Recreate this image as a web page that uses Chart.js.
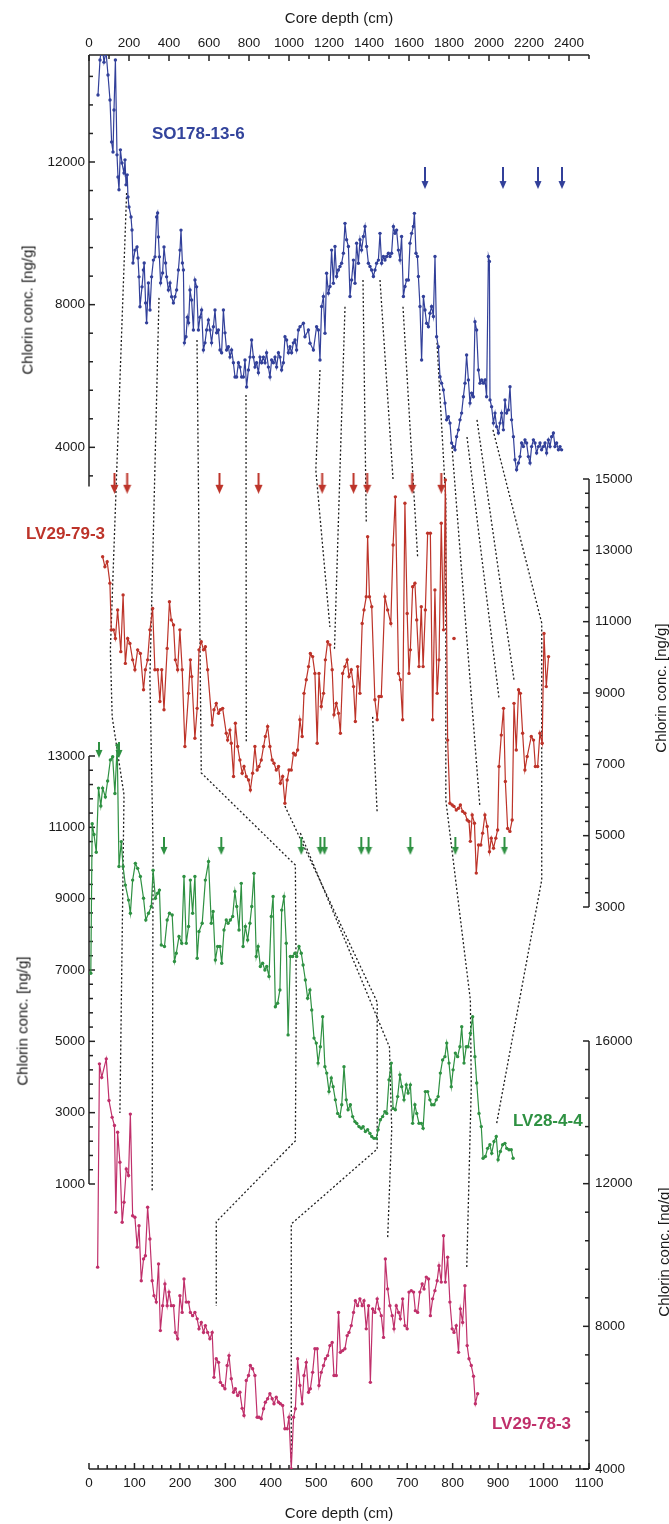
<!DOCTYPE html>
<html>
<head>
<meta charset="utf-8">
<script src="https://cdn.jsdelivr.net/npm/chart.js@4.4.1/dist/chart.umd.min.js"></script>
<style>
  html, body { margin: 0; padding: 0; background: #fff; }
  #wrap { position: relative; width: 669px; height: 1524px; font-family: 'Liberation Sans', Arial, sans-serif; }
  #chart { position: absolute; left: 0; top: 0; }
  .lbl { position: absolute; font-weight: bold; font-size: 17px; line-height: 1; white-space: nowrap; transform: translateY(-50%); }
  .ytitle { position: absolute; font-size: 15px; line-height: 1; color: #1a1a1a; white-space: nowrap; transform: translate(-50%, -50%) rotate(-90deg); }
</style>
</head>
<body>
<div id="wrap">
  <canvas id="chart" width="669" height="1524"></canvas>
  <div class="lbl" style="left:152px;top:133px;color:#33449c">SO178-13-6</div>
  <div class="lbl" style="left:26px;top:533px;color:#bd3329">LV29-79-3</div>
  <div class="lbl" style="left:513px;top:1120px;color:#2e9142">LV28-4-4</div>
  <div class="lbl" style="left:492px;top:1423px;color:#c0306b">LV29-78-3</div>
  <div class="ytitle" style="left:27px;top:310px">Chlorin conc. [ng/g]</div>
  <div class="ytitle" style="left:22px;top:1021px">Chlorin conc. [ng/g]</div>
  <div class="ytitle" style="left:660px;top:688px">Chlorin conc. [ng/g]</div>
  <div class="ytitle" style="left:663px;top:1252px">Chlorin conc. [ng/g]</div>
</div>
<script>
// ---- SO178-13-6 (top depth axis) ----
const soDepth = [
  45,55,65,75,85,95,105,113,120,125,
  132,140,145,150,157,165,175,180,185,191,
  195,200,210,215,220,230,240,245,250,255,
  265,272,276,283,288,297,305,313,322,330,
  338,343,347,352,358,368,375,383,388,397,
  405,413,422,430,438,447,455,460,467,472,
  477,485,492,498,505,513,522,530,538,547,
  555,563,572,580,588,597,605,613,622,630,
  638,647,655,663,672,680,688,697,705,713,
  722,730,738,747,755,763,772,780,788,797,
  805,813,822,830,838,847,855,863,872,880,
  888,897,905,913,922,930,938,947,955,963,
  972,980,988,997,1005,1013,1022,1030,1038,1047,
  1055,1072,1080,1097,1105,1122,1138,1147,1155,1163,
  1172,1180,1188,1197,1205,1213,1222,1230,1238,1247,
  1255,1263,1272,1280,1288,1297,1305,1313,1322,1330,
  1338,1347,1355,1363,1372,1380,1388,1397,1405,1413,
  1422,1430,1438,1447,1455,1463,1472,1480,1488,1497,
  1505,1513,1522,1530,1538,1547,1555,1563,1572,1580,
  1588,1597,1605,1613,1622,1627,1635,1642,1647,1655,
  1663,1672,1680,1688,1697,1705,1713,1722,1730,1738,
  1747,1755,1763,1772,1780,1788,1797,1805,1813,1822,
  1830,1838,1847,1855,1863,1872,1880,1888,1897,1905,
  1913,1922,1930,1938,1947,1955,1963,1972,1980,1988,
  1997,2002,2005,2013,2022,2030,2038,2047,2055,2063,
  2072,2080,2088,2097,2105,2113,2122,2130,2138,2147,
  2155,2163,2172,2180,2188,2197,2205,2213,2222,2230,
  2238,2247,2255,2263,2272,2280,2288,2297,2305,2313,
  2322,2330,2338,2347,2355,2363
];
const soConc = [
  13880,14860,15300,14800,15100,14440,13740,12560,12280,13460,
  14860,12200,11580,11220,12340,11970,11690,12060,11360,11640,
  11020,10740,10460,10095,9170,9530,9620,9310,8780,7940,
  8500,8970,9170,8050,7490,8610,7850,8780,9250,9340,
  10460,10570,9900,9340,8610,8890,9620,9170,8780,8410,
  8610,8220,8050,8220,8410,8970,9530,10090,9170,8970,
  6930,7100,7650,7490,8410,8130,7290,8690,8500,7290,
  7650,7850,6730,6930,7290,7570,7290,6930,7380,7850,
  7210,7290,6730,6650,7850,7210,6730,6820,6530,6730,
  6370,5970,5970,6370,6250,5970,5970,6450,5690,6170,
  6530,7010,6530,6250,6370,6090,6530,6370,6530,6370,
  6650,6250,5970,6450,6370,6530,6250,6650,6530,6170,
  6370,7100,7010,6650,6820,6650,6930,7010,6730,7290,
  7380,7480,7100,7290,6920,6730,7380,7290,6450,7950,
  8230,7200,8880,8320,8510,9530,8600,9630,8790,8970,
  9070,9160,9440,10280,9820,9630,8230,8690,9250,8600,
  9720,9160,9820,9530,9910,10190,9630,9160,9070,8970,
  8790,8970,9160,9250,10000,9160,9350,9250,9350,9440,
  9350,9440,10190,10000,10090,9530,9250,9910,8230,8510,
  8690,8690,9720,10000,10190,10560,9440,9350,8790,7950,
  6450,8230,7850,7480,7380,7760,7950,7670,9350,7100,
  6820,5980,5800,5610,5240,4770,4860,4680,4120,4020,
  3930,4300,4490,4770,4960,5420,5800,6590,5890,5240,
  5520,5420,7520,7290,6170,5800,5890,5800,5890,5420,
  9350,9210,5330,5140,4680,4960,4580,4400,4680,4960,
  4490,5330,4960,5050,5700,4770,4300,3650,3370,3560,
  3740,4120,4020,4210,4120,3740,3560,4020,4210,4120,
  3840,4020,4120,3930,4020,4120,3840,4210,4020,4300,
  4400,4020,4120,3930,4020,3930
];

// ---- LV29-79-3 ----
const r79Depth = [
  30,35,40,46,49,54,58,63,70,75,
  80,85,90,96,101,107,113,120,124,129,
  134,140,145,151,156,160,165,172,177,181,
  186,190,195,200,205,211,219,223,226,233,
  238,242,247,252,256,261,271,275,280,285,
  289,294,302,305,310,313,318,322,327,332,
  337,341,346,351,355,360,365,370,374,379,
  384,388,393,398,403,407,412,417,421,426,
  431,436,440,445,450,454,459,464,469,473,
  478,483,487,492,497,502,506,511,516,520,
  525,530,535,539,544,549,553,558,563,568,
  572,577,582,586,591,596,601,605,610,613,
  617,622,629,634,638,643,651,657,664,669,
  674,681,685,690,695,700,704,707,712,717,
  721,726,731,735,740,745,751,756,761,766,
  770,775,780,784,789,794,799,803,808,813,
  817,822,827,832,836,839,843,848,852,857,
  862,866,871,876,881,885,890,895,899,902,
  907,912,916,921,926,931,935,940,945,949,
  954,959,964,973,978,982,987,992,997,1001,
  1006,1011
];
const r79Conc = [
  12820,12540,12680,12080,10770,10770,10530,11330,10160,11750,
  9830,10530,10390,9930,9650,10210,10110,9090,9650,9930,
  10770,11370,9650,9650,8760,9650,8530,10250,11560,11050,
  10910,9930,9650,10770,9650,7500,8990,9930,9460,7730,
  8570,10210,10440,10210,10300,9650,8100,8530,8710,8430,
  8530,8570,7870,7680,7960,7590,6660,8150,7500,7120,
  6750,6940,6660,6560,6280,6750,7500,6840,6940,7120,
  7500,7780,8060,7500,7120,7030,6840,6940,6470,6660,
  5910,6560,6840,6840,7310,7260,7400,8250,7780,8990,
  9370,9740,10110,10020,9550,7590,9550,8620,8990,9930,
  10440,10350,9650,8390,8710,8430,7870,9550,9740,9930,
  9460,9650,9180,8200,9740,8990,10950,11330,11700,13380,
  11700,11420,8810,8250,8900,8900,11700,11330,10950,13150,
  14500,9550,9370,8250,14320,11230,9550,10210,11980,12080,
  11050,9740,11420,9740,11330,13480,13480,8250,11890,8990,
  9930,13760,10770,14970,7680,5910,5860,5820,5720,5770,
  5860,5680,5630,5440,5400,4840,5580,5350,3950,4740,
  4740,5070,5580,5260,4550,4930,4650,4930,5160,6940,
  7820,8570,6520,5200,5120,5440,8710,7400,9090,8990,
  7870,6840,7220,7780,7680,6940,6940,7870,7590,10670,
  9180,10020
];
const r79LoneDepth = [803];
const r79LoneConc = [10530];

// ---- LV28-4-4 ----
const g4Depth = [
  4,7,11,16,21,26,30,36,41,47,
  52,57,62,66,71,75,80,87,91,96,
  102,107,113,120,125,131,137,141,146,151,
  155,159,166,172,177,183,188,192,198,204,
  209,214,219,223,228,233,238,242,249,256,
  263,269,273,278,283,288,292,297,302,306,
  311,316,321,325,330,335,339,344,349,354,
  358,363,368,372,377,382,387,391,396,401,
  405,410,415,420,424,429,434,438,443,448,
  453,457,462,467,471,476,481,486,490,495,
  500,504,509,514,519,523,528,533,537,542,
  547,552,556,561,566,570,575,580,585,589,
  594,599,603,608,613,618,622,627,632,636,
  641,646,651,655,660,665,669,674,679,684,
  688,693,698,702,707,712,717,721,726,731,
  735,740,745,750,754,759,764,768,773,778,
  783,787,792,797,801,806,811,816,820,825,
  830,834,839,844,849,853,858,863,867,872,
  877,882,886,891,896,900,905,910,915,919,
  924,929,933
];
const g4Conc = [
  6910,11100,10800,10300,12100,11600,12100,11850,12300,12890,
  12980,11950,13300,9900,10600,9900,9380,8960,8590,9520,
  9990,9850,9620,9010,8400,8590,8780,9800,9010,9150,
  9240,7700,7660,8400,8590,8540,7240,7470,7940,7750,
  9620,7750,8220,9520,8590,9620,7330,8080,8310,9520,
  10040,8310,8640,7280,7660,7660,7190,8120,8400,8310,
  8400,8500,9200,8780,8120,9430,7660,8220,7840,8310,
  8780,9710,7380,7660,7100,7190,7000,7100,6820,8500,
  9060,5970,6070,6440,8680,9060,7750,5180,7380,7380,
  7470,7380,7660,7470,7140,6720,6210,6440,5880,5090,
  4950,4390,4850,5690,4290,4110,3590,3970,3730,3360,
  2980,2890,3220,4290,3360,3080,3220,2890,2750,2700,
  2610,2560,2610,2470,2520,2420,2330,2280,2280,2520,
  2800,2890,3030,2980,3920,4390,3120,3080,3450,4060,
  3730,3360,3780,3550,3780,2700,3220,2980,2700,2700,
  2560,3590,3590,3360,3220,3220,3360,3450,4110,4480,
  4570,4950,4390,3730,4200,4670,4570,4850,5410,4390,
  4850,4850,5230,5690,4570,3830,2980,2610,1720,1770,
  2000,2100,1860,2190,2330,1680,1910,2100,2140,2000,
  1960,1960,1720
];

// ---- LV29-78-3 ----
const m78Depth = [
  19,23,28,38,44,51,56,59,63,68,
  73,77,82,87,91,96,101,106,110,115,
  120,124,129,134,139,143,148,153,157,162,
  167,172,176,181,186,190,195,200,205,209,
  214,219,223,228,233,238,242,247,252,256,
  261,266,271,275,280,285,289,294,299,304,
  308,313,318,322,327,332,337,341,346,351,
  355,360,365,370,374,379,384,388,393,398,
  403,407,412,417,421,426,431,436,440,445,
  450,454,459,464,469,473,478,483,487,492,
  497,502,506,511,516,520,525,530,535,539,
  544,549,553,558,563,568,572,577,582,586,
  591,596,601,605,610,615,619,624,629,634,
  638,643,648,652,657,662,667,671,676,681,
  685,690,695,700,704,709,714,718,723,728,
  733,737,742,747,751,756,761,766,770,775,
  780,784,789,794,799,803,808,813,817,822,
  827,832,836,841,846,850,855
];
const m78Conc = [
  9660,15360,14980,15500,14330,13860,13630,11200,13440,12600,
  10920,11480,12410,12230,13950,11100,11060,10220,10820,9280,
  9890,9980,11340,10450,9280,8860,8680,9750,7880,8580,
  9190,8580,8960,8580,8580,7830,7650,8860,8390,9330,
  8680,8680,8390,8300,8390,8210,7930,8110,7830,8020,
  7830,7650,7830,6570,7090,6990,6430,6340,6250,6900,
  7180,6530,6150,6250,6060,6150,5700,5500,6480,6620,
  6900,6810,6620,5450,5450,5410,5690,5870,5970,6110,
  5970,5830,6010,5870,5830,5780,5130,5130,5450,4000,
  5450,5690,7090,6340,5830,6620,6990,6150,6250,6710,
  7370,7370,6340,6710,6900,7090,7180,7460,7550,6620,
  6620,8390,7270,7320,7370,7740,7830,8020,8390,8720,
  8580,8770,8580,8720,7930,8580,6430,8490,8390,8770,
  8490,8300,7690,9890,9050,8580,8300,7930,8580,8390,
  8210,8770,8020,7930,8960,9000,8960,8440,8390,8960,
  9190,9050,9380,9330,8300,8770,9000,9280,9700,9240,
  10540,9240,9940,8680,7930,7830,8020,7270,8490,8110,
  9140,7460,7090,6900,6600,5830,6110
];

// dating arrows (core depth, cm)
const soArrows = [1680, 2070, 2245, 2365];
const r79Arrows = [56, 84, 287, 373, 513, 582, 612, 711, 775];
const g4Arrows = [165, 291, 467, 509, 518, 599, 615, 707, 806, 914];
const g4TopArrows = [22, 66];

// tick labels
const topDepthTicks = [0,200,400,600,800,1000,1200,1400,1600,1800,2000,2200,2400];
const bottomDepthTicks = [0,100,200,300,400,500,600,700,800,900,1000,1100];
const soConcTicks = [4000, 8000, 12000];
const g4ConcTicks = [1000, 3000, 5000, 7000, 9000, 11000, 13000];
const r79ConcTicks = [3000, 5000, 7000, 9000, 11000, 13000, 15000];
const m78ConcTicks = [4000, 8000, 12000, 16000];

// correlation tie points: [core, depth, conc]
const tieLines = [
  [['so',188,11130],['r',47,10210],['r',51,8330],['g',77,11910],['g',68,2990]],
  [['so',350,8190],['r',134,9450],['g',141,10360],['m',139,11790]],
  [['so',540,7010],['r',247,6760],['g',454,9940],['g',456,6160],['m',454,13200],['m',280,10930],['m',280,8570]],
  [['so',785,5470],['r',346,7600]],
  [['r',431,5830],['g',634,6100],['g',634,3300],['m',634,12970],['m',445,10870],['m',445,4140]],
  [['so',1155,6170],['r',499,15250],['r',530,10850]],
  [['so',1280,7940],['r',540,10210]],
  [['so',1370,8690],['r',610,13770]],
  [['so',1455,8690],['r',669,14970]],
  [['so',1570,7940],['r',723,12810]],
  [['so',1740,6930],['r',785,14410],['r',785,6000],['g',839,6160],['g',841,3720],['m',831,9610]],
  [['so',1815,4010],['r',860,5800]],
  [['so',1890,4290],['r',902,8860]],
  [['so',1940,4770],['r',935,9370]],
  [['so',2020,4490],['r',996,10960],['r',996,3760],['g',897,2710]],
  [['r',624,8330],['g',634,11400]],
  [['g',465,10840],['g',661,4840],['m',666,13530],['m',657,10450]]
];

// ---- layout: every y axis has the same ng/g per pixel, shifted into its own band ----
const UPP = 12000 / 428;
const AREA_H = 1414;
function band(topVal, offsetPx) {
  const max = topVal + offsetPx * UPP;
  return { min: max - AREA_H * UPP, max: max };
}
const soRange = band(15000, 0);
const r79Range = band(15000, 424);
const g4Range = band(13000, 701);
const m78Range = band(16000, 986);
const G_SHIFT = g4Range.max - soRange.max;
const R_SHIFT = r79Range.max - m78Range.max;

const BLUE = '#32409a', RED = '#bd3329', GREEN = '#2e9142', MAG = '#c0306b';
const tickFont = { family: "'Liberation Sans', Arial, sans-serif", size: 13.5 };

function arrow(color, len, headW, headH) {
  const c = document.createElement('canvas');
  c.width = headW + 1; c.height = len;
  const g = c.getContext('2d');
  const cx = c.width / 2;
  g.strokeStyle = color; g.fillStyle = color; g.lineWidth = 2;
  g.beginPath(); g.moveTo(cx, 0); g.lineTo(cx, len - headH + 1); g.stroke();
  g.beginPath();
  g.moveTo(cx - headW / 2, len - headH);
  g.lineTo(cx + headW / 2, len - headH);
  g.lineTo(cx, len);
  g.closePath(); g.fill();
  return c;
}

const pts = (xs, ys) => xs.map((x, i) => ({ x: x, y: ys[i] }));
const row = (xs, level) => xs.map(x => ({ x: x, y: level }));

function series(label, xs, ys, color, xId, yId) {
  return {
    label: label, data: pts(xs, ys), xAxisID: xId, yAxisID: yId,
    borderColor: color, backgroundColor: color, borderWidth: 1.2,
    pointRadius: 1.7, pointBorderWidth: 0, tension: 0
  };
}
function arrows(xs, level, img, xId, yId) {
  return {
    data: row(xs, level), xAxisID: xId, yAxisID: yId, showLine: false,
    pointStyle: img, pointRadius: 6, clip: false
  };
}

const tiePlugin = {
  id: 'ties',
  beforeDatasetsDraw(chart) {
    const { ctx, scales: s } = chart;
    const map = { so: [s.xTop, s.yL], r: [s.x, s.yRed], g: [s.x, s.yG], m: [s.x, s.yR] };
    ctx.save();
    ctx.setLineDash([2, 2.2]);
    ctx.lineWidth = 1.3;
    ctx.strokeStyle = '#1e1e1e';
    tieLines.forEach(line => {
      ctx.beginPath();
      line.forEach(([k, d, v], i) => {
        const [xs, ys] = map[k];
        const px = xs.getPixelForValue(d), py = ys.getPixelForValue(v);
        if (i) ctx.lineTo(px, py); else ctx.moveTo(px, py);
      });
      ctx.stroke();
    });
    ctx.restore();
  }
};

const yBands = [
  { id: 'yL', side: 'left', from: 2900, to: 15000, first: 3200, step: 800, labels: soConcTicks },
  { id: 'yG', side: 'left', from: 1000, to: 13000, first: 1000, step: 400, labels: g4ConcTicks },
  { id: 'yRed', side: 'right', from: 3000, to: 15000, first: 3000, step: 400, labels: r79ConcTicks },
  { id: 'yR', side: 'right', from: 4000, to: 16000, first: 4000, step: 800, labels: m78ConcTicks }
];

const axisPlugin = {
  id: 'axes',
  beforeDatasetsDraw(chart) {
    const { ctx, chartArea: a, scales: s } = chart;
    ctx.save();
    ctx.strokeStyle = '#222';
    ctx.lineWidth = 1.5;
    const seg = (x1, y1, x2, y2) => { ctx.beginPath(); ctx.moveTo(x1, y1); ctx.lineTo(x2, y2); ctx.stroke(); };
    seg(a.left, a.top, a.right, a.top);
    seg(a.left, a.bottom, a.right, a.bottom);
    for (let v = 0; v <= 2500; v += 100) {
      const px = s.xTop.getPixelForValue(v);
      seg(px, a.top, px, a.top + (v % 200 === 0 ? 6 : 4));
    }
    for (let v = 0; v <= 1100; v += 20) {
      const px = s.x.getPixelForValue(v);
      seg(px, a.bottom, px, a.bottom - (v % 100 === 0 ? 6 : 4));
    }
    yBands.forEach(b => {
      const sc = s[b.id];
      const x = b.side === 'left' ? a.left : a.right;
      const dir = b.side === 'left' ? 1 : -1;
      seg(x, sc.getPixelForValue(b.from), x, sc.getPixelForValue(b.to));
      for (let v = b.first; v <= b.to; v += b.step) {
        const py = sc.getPixelForValue(v);
        seg(x, py, x + dir * (b.labels.includes(v) ? 6 : 4), py);
      }
    });
    ctx.restore();
  }
};

const labelTicks = (list, shift) => list.map(v => ({ value: v - shift, lab: String(v) }));
const fromLab = (v, i, ticks) => ticks[i].lab;
const plain = v => String(v);

new Chart(document.getElementById('chart'), {
  type: 'line',
  data: {
    datasets: [
      series('SO178-13-6', soDepth, soConc, BLUE, 'xTop', 'yL'),
      series('LV29-79-3', r79Depth, r79Conc, RED, 'x', 'yRed'),
      series('LV28-4-4', g4Depth, g4Conc, GREEN, 'x', 'yG'),
      series('LV29-78-3', m78Depth, m78Conc, MAG, 'x', 'yR'),
      { data: pts(r79LoneDepth, r79LoneConc), xAxisID: 'x', yAxisID: 'yRed', showLine: false,
        pointRadius: 1.8, pointBorderWidth: 0, backgroundColor: RED },
      arrows(soArrows, 11550, arrow(BLUE, 22, 7, 8), 'xTop', 'yL'),
      arrows(r79Arrows, 14880, arrow(RED, 21, 8, 9), 'x', 'yRed'),
      arrows(g4Arrows, 10480, arrow(GREEN, 18, 7, 8), 'x', 'yG'),
      arrows(g4TopArrows, 13170, arrow(GREEN, 16, 7, 8), 'x', 'yG')
    ]
  },
  options: {
    responsive: false,
    animation: false,
    devicePixelRatio: 1,
    layout: { padding: 0 },
    plugins: { legend: { display: false }, tooltip: { enabled: false } },
    scales: {
      xTop: {
        type: 'linear', position: 'top', min: 0, max: 2500,
        afterBuildTicks: sc => { sc.ticks = topDepthTicks.map(v => ({ value: v })); },
        afterFit: sc => { sc.height = 55; },
        grid: { display: false, drawTicks: false }, border: { display: false },
        ticks: { autoSkip: false, maxRotation: 0, padding: 4, font: tickFont, color: '#1a1a1a', callback: plain },
        title: { display: true, text: 'Core depth (cm)', color: '#1a1a1a',
                 font: { family: tickFont.family, size: 15 }, padding: { top: 10, bottom: 0 } }
      },
      x: {
        type: 'linear', position: 'bottom', min: 0, max: 1100,
        afterBuildTicks: sc => { sc.ticks = bottomDepthTicks.map(v => ({ value: v })); },
        afterFit: sc => { sc.height = 55; },
        grid: { display: false, drawTicks: false }, border: { display: false },
        ticks: { autoSkip: false, maxRotation: 0, padding: 6, font: tickFont, color: '#1a1a1a', callback: plain },
        title: { display: true, text: 'Core depth (cm)', color: '#1a1a1a',
                 font: { family: tickFont.family, size: 15 }, padding: { top: 0, bottom: 1 } }
      },
      yL: {
        type: 'linear', position: 'left', min: soRange.min, max: soRange.max,
        afterBuildTicks: sc => {
          sc.ticks = labelTicks(soConcTicks, 0).concat(labelTicks(g4ConcTicks, G_SHIFT))
            .sort((p, q) => p.value - q.value);
        },
        afterFit: sc => { sc.width = 89; },
        grid: { display: false, drawTicks: false }, border: { display: false },
        ticks: { autoSkip: false, padding: 4, font: tickFont, color: '#1a1a1a', callback: fromLab }
      },
      yG: { type: 'linear', display: false, min: g4Range.min, max: g4Range.max },
      yR: {
        type: 'linear', position: 'right', min: m78Range.min, max: m78Range.max,
        afterBuildTicks: sc => {
          sc.ticks = labelTicks(m78ConcTicks, 0).concat(labelTicks(r79ConcTicks, R_SHIFT))
            .sort((p, q) => p.value - q.value);
        },
        afterFit: sc => { sc.width = 80; },
        grid: { display: false, drawTicks: false }, border: { display: false },
        ticks: { autoSkip: false, padding: 6, font: tickFont, color: '#1a1a1a', callback: fromLab }
      },
      yRed: { type: 'linear', display: false, min: r79Range.min, max: r79Range.max }
    }
  },
  plugins: [tiePlugin, axisPlugin]
});
</script>
</body>
</html>
